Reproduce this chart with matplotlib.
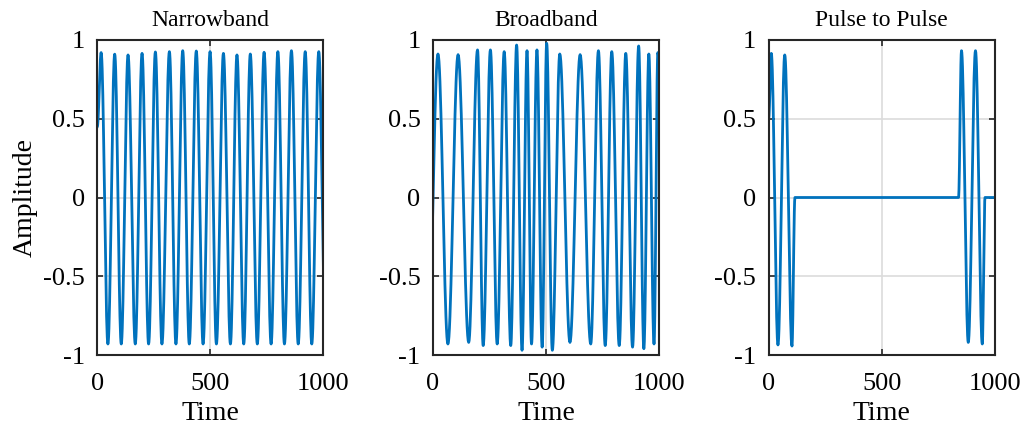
import numpy as np
import matplotlib.pyplot as plt

plt.rcParams['font.family'] = ['Liberation Serif', 'DejaVu Serif']
plt.rcParams['axes.unicode_minus'] = False

# extrema of each trace (time, amplitude)
nb_t = [0, 17, 47, 77, 106, 136, 168, 198, 227, 257, 286, 319, 348, 378, 407,
        438, 468, 499, 527, 558, 589, 618, 648, 677, 708, 738, 769, 799, 828,
        859, 889, 920, 949, 980, 1010]
nb_v = [0.45, 0.92, -0.93, 0.91, -0.93, 0.905, -0.93, 0.915, -0.93, 0.924, -0.93,
        0.926, -0.93, 0.932, -0.93, 0.93, -0.93, 0.926, -0.93, 0.915, -0.93,
        0.905, -0.93, 0.911, -0.93, 0.922, -0.93, 0.926, -0.93, 0.932, -0.93,
        0.926, -0.93, 0.926, -0.93]

bb_t = [-22, 22, 66, 111, 158, 197, 222, 254, 284, 315, 344, 370, 394, 416, 436,
        460, 483, 503, 528, 561, 606, 651, 698, 732, 762, 791, 824, 853, 883,
        910, 933, 955, 978, 995, 1030]
bb_v = [-0.93, 0.911, -0.93, 0.907, -0.92, 0.937, -0.94, 0.937, -0.93, 0.926, -0.94,
        0.968, -0.97, 0.932, -0.93, 0.937, -0.95, 0.979, -0.97, 0.911, -0.92,
        0.907, -0.93, 0.932, -0.94, 0.926, -0.94, 0.915, -0.95, 0.962, -0.96,
        0.911, -0.93, 0.92, -0.93]

pp_t = [0, 11.5, 41, 71, 103, 116, 840, 853, 883, 915, 945, 957, 1000]
pp_v = [0.5, 0.915, -0.936, 0.905, -0.943, 0, 0, 0.932, -0.92, 0.932, -0.93, 0, 0]

titles = ['Narrowband', 'Broadband', 'Pulse to Pulse']
traces = [(nb_t, nb_v), (bb_t, bb_v), (pp_t, pp_v)]
xticks = [0, 500, 1000]
yticks = [-1, -0.5, 0, 0.5, 1]
ylabels = ['-1', '-0.5', '0', '0.5', '1']


def shape(tk, vk, n=20):
    # half-cosine swing between neighbouring extrema
    xs, ys = [], []
    for i in range(len(tk) - 1):
        s = np.linspace(0, 1, n, endpoint=False)
        w = (1 - np.cos(np.pi * s)) / 2
        xs.append(tk[i] + (tk[i + 1] - tk[i]) * s)
        ys.append(vk[i] + (vk[i + 1] - vk[i]) * w)
    xs.append([tk[-1]])
    ys.append([vk[-1]])
    return np.concatenate(xs), np.concatenate(ys)


fig = plt.figure(figsize=(10.26, 4.28), dpi=100)
lefts = [97.3, 433, 768.7]
for i, (tk, vk) in enumerate(traces):
    ax = fig.add_axes([lefts[i] / 1026, 73 / 428, 226 / 1026, 315 / 428])
    x, y = shape(tk, vk)
    ax.plot(x, y, color='#0072BD', lw=2.0)
    ax.set_xlim(0, 1000)
    ax.set_ylim(-1, 1)
    ax.set_xticks(xticks)
    ax.set_yticks(yticks)
    ax.set_yticklabels(ylabels)
    ax.grid(True, color='#dcdcdc', lw=1.2)
    ax.set_axisbelow(True)
    ax.tick_params(direction='in', length=4, width=1.2, top=True, right=True,
                   labelsize=19, colors='#262626', labelcolor='black')
    ax.tick_params(axis='x', pad=13)
    ax.tick_params(axis='y', pad=9)
    for sp in ax.spines.values():
        sp.set_linewidth(1.5)
        sp.set_color('#262626')
    ax.set_title(titles[i], fontsize=17, pad=10)
    ax.set_xlabel('Time', fontsize=20, labelpad=4)
    if i == 0:
        ax.set_ylabel('Amplitude', fontsize=20, labelpad=4)

fig.savefig('out.png', dpi=100)
